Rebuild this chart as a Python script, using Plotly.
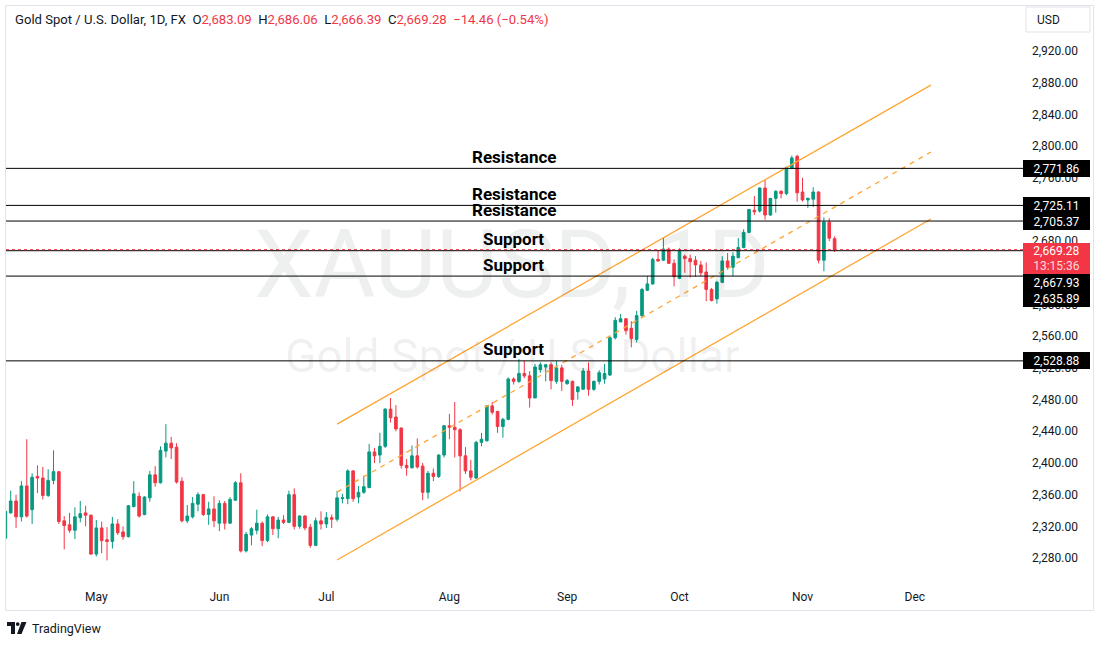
import plotly.graph_objects as go
import pandas as pd

# ---------------- data ----------------
dates = pd.bdate_range("2024-04-08", "2024-11-11")

open_ = [
    # Apr
    2305, 2337, 2352, 2332, 2371, 2341, 2383, 2381, 2359, 2378, 2389, 2327, 2322, 2315, 2331, 2337, 2334,
    # May
    2285, 2318, 2303, 2301, 2323, 2313, 2307, 2345, 2358, 2335, 2356, 2385, 2375, 2415, 2425, 2420, 2377,
    2327, 2332, 2348, 2360, 2335, 2342,
    # Jun
    2324, 2349, 2324, 2353, 2375, 2289, 2309, 2315, 2324, 2302, 2332, 2317, 2328, 2325, 2360, 2320, 2333,
    2319, 2296, 2327,
    # Jul
    2323, 2331, 2329, 2355, 2355, 2390, 2357, 2363, 2369, 2414, 2410, 2421, 2468, 2458, 2444, 2397, 2394,
    2409, 2396, 2363, 2387, 2383, 2410,
    # Aug
    2447, 2445, 2442, 2409, 2390, 2381, 2426, 2428, 2472, 2465, 2446, 2455, 2506, 2503, 2513, 2510, 2482,
    2518, 2521, 2524, 2503, 2520,
    # Sep
    2500, 2503, 2490, 2493, 2516, 2493, 2503, 2506, 2511, 2558, 2578, 2582, 2570, 2556, 2586, 2618, 2626,
    2657, 2656, 2670, 2652,
    # Oct
    2633, 2661, 2658, 2656, 2650, 2641, 2619, 2607, 2628, 2655, 2647, 2659, 2672, 2691, 2719, 2718, 2747,
    2713, 2734, 2743, 2740, 2772, 2787,
    # Nov
    2742, 2732, 2733, 2742, 2656, 2704, 2683.09,
]
high = [
    2353, 2365, 2360, 2377, 2430, 2387, 2397, 2395, 2392, 2416, 2390, 2333, 2337, 2344, 2352, 2346, 2335,
    2328, 2326, 2319, 2332, 2329, 2320, 2347, 2377, 2363, 2358, 2390, 2396, 2421, 2449, 2433, 2425, 2382,
    2347, 2357, 2363, 2361, 2351, 2358,
    2353, 2352, 2357, 2377, 2387, 2313, 2319, 2341, 2326, 2335, 2333, 2332, 2334, 2365, 2368, 2334, 2334,
    2323, 2331, 2339,
    2338, 2335, 2365, 2361, 2392, 2391, 2371, 2384, 2424, 2419, 2438, 2469, 2482, 2473, 2445, 2405, 2422,
    2431, 2400, 2390, 2393, 2411, 2448,
    2462, 2477, 2444, 2420, 2404, 2428, 2438, 2473, 2477, 2466, 2457, 2508, 2508, 2531, 2529, 2516, 2525,
    2527, 2525, 2527, 2529, 2524,
    2506, 2504, 2497, 2520, 2527, 2504, 2517, 2525, 2560, 2584, 2588, 2583, 2579, 2592, 2621, 2636, 2659,
    2668, 2684, 2672, 2657,
    2671, 2663, 2663, 2661, 2655, 2653, 2621, 2630, 2661, 2665, 2666, 2684, 2695, 2720, 2737, 2748, 2757,
    2734, 2744, 2744, 2774, 2788, 2789,
    2760, 2735, 2748, 2743, 2710, 2709, 2686.06,
]
low = [
    2301, 2336, 2318, 2326, 2331, 2323, 2362, 2354, 2357, 2373, 2323, 2291, 2312, 2304, 2325, 2320, 2284,
    2282, 2286, 2277, 2292, 2309, 2303, 2306, 2344, 2331, 2334, 2351, 2370, 2374, 2407, 2405, 2374, 2325,
    2324, 2330, 2339, 2333, 2322, 2319,
    2314, 2316, 2323, 2352, 2287, 2287, 2296, 2310, 2295, 2300, 2309, 2305, 2323, 2324, 2316, 2317, 2315,
    2293, 2295, 2316,
    2318, 2318, 2326, 2349, 2348, 2351, 2349, 2361, 2368, 2400, 2400, 2419, 2451, 2440, 2393, 2384, 2393,
    2393, 2353, 2355, 2377, 2381, 2407,
    2430, 2407, 2364, 2386, 2378, 2380, 2421, 2427, 2461, 2438, 2432, 2454, 2499, 2501, 2507, 2470, 2482,
    2514, 2503, 2493, 2500, 2491,
    2499, 2472, 2480, 2493, 2485, 2491, 2499, 2500, 2510, 2556, 2578, 2562, 2546, 2552, 2584, 2617, 2625,
    2654, 2655, 2651, 2623,
    2632, 2640, 2634, 2635, 2636, 2604, 2604, 2601, 2627, 2644, 2636, 2659, 2671, 2690, 2713, 2716, 2707,
    2712, 2716, 2734, 2738, 2771, 2730,
    2730, 2722, 2723, 2652, 2642, 2680, 2666.39,
]
close = [
    2339, 2352, 2332, 2371, 2333, 2382, 2381, 2359, 2378, 2389, 2326, 2321, 2315, 2332, 2336, 2334, 2285,
    2318, 2302, 2301, 2323, 2312, 2307, 2346, 2361, 2333, 2357, 2385, 2375, 2416, 2425, 2419, 2376, 2327,
    2333, 2349, 2360, 2335, 2342, 2327,
    2349, 2324, 2354, 2375, 2289, 2310, 2317, 2324, 2302, 2332, 2317, 2328, 2325, 2360, 2320, 2333, 2318,
    2296, 2327, 2323,
    2331, 2329, 2356, 2356, 2390, 2355, 2363, 2370, 2414, 2409, 2421, 2468, 2457, 2443, 2397, 2394, 2409,
    2395, 2363, 2387, 2383, 2410, 2447,
    2445, 2442, 2409, 2390, 2382, 2426, 2430, 2472, 2464, 2446, 2455, 2506, 2503, 2513, 2510, 2482, 2521,
    2524, 2524, 2504, 2520, 2503,
    2504, 2480, 2496, 2516, 2493, 2503, 2514, 2513, 2558, 2580, 2582, 2567, 2557, 2586, 2619, 2626, 2657,
    2655, 2670, 2652, 2635,
    2667, 2658, 2654, 2650, 2640, 2619, 2605, 2628, 2655, 2647, 2661, 2672, 2691, 2720, 2717, 2747, 2713,
    2734, 2743, 2740, 2773, 2785, 2741,
    2732, 2734, 2742, 2656, 2704, 2683.74, 2669.28,
]
assert len(dates) == len(open_) == len(high) == len(low) == len(close)

# horizontal levels
level_values = [2771.86, 2725.11, 2705.37, 2667.93, 2635.89, 2528.88]
level_names = ["Resistance", "Resistance", "Resistance", "Support", "Support", "Support"]
label_shift = [0, 0, 0, -31.4, -22, 0]   # price-scale tag displacement (px)

# parallel channel (anchor dates and prices)
chan_x = ["2024-07-03", "2024-12-05"]
chan_upper = [2449.0, 2877.0]
chan_lower = [2277.5, 2708.0]
chan_mid = [(a + b) / 2 for a, b in zip(chan_upper, chan_lower)]

month_ticks = ["2024-05-01", "2024-06-03", "2024-07-01", "2024-08-01",
               "2024-09-02", "2024-10-01", "2024-11-01", "2024-12-02"]
month_labels = ["May", "Jun", "Jul", "Aug", "Sep", "Oct", "Nov", "Dec"]
price_ticks = [2280, 2320, 2360, 2400, 2440, 2480, 2520, 2560, 2600, 2640,
               2680, 2720, 2760, 2800, 2840, 2880, 2920]

countdown = "13:15:36"

# ---------------- styling ----------------
UP = "#089981"
DOWN = "#F23645"
TXT = "#131722"
ORANGE = "#FFA532"
FONT = "Roboto"

W, H = 1104, 645
ML, MR, MT, MB = 6, 83, 6, 62
PW = W - ML - MR
PH = H - MT - MB


def px(x):
    return (x - ML) / PW


def py(y):
    return (H - MB - y) / PH


fig = go.Figure()

fig.add_trace(go.Candlestick(
    x=dates, open=open_, high=high, low=low, close=close,
    increasing=dict(line=dict(color=UP, width=1), fillcolor=UP),
    decreasing=dict(line=dict(color=DOWN, width=1), fillcolor=DOWN),
    whiskerwidth=0, showlegend=False, hoverinfo="skip",
))

for ys, dash in [(chan_upper, "solid"), (chan_lower, "solid"), (chan_mid, "5px,5px")]:
    fig.add_trace(go.Scatter(
        x=chan_x, y=ys, mode="lines",
        line=dict(color=ORANGE, width=1.3, dash=dash),
        showlegend=False, hoverinfo="skip",
    ))

shapes = []
annotations = []

# watermark
annotations.append(dict(text="XAUUSD, 1D", xref="paper", yref="paper", x=0.499, y=py(264),
                        showarrow=False, font=dict(family=FONT, size=95, color="rgba(19,23,34,0.07)"),
                        xanchor="center", yanchor="middle"))
annotations.append(dict(text="Gold Spot / U.S. Dollar", xref="paper", yref="paper", x=0.499, y=py(356),
                        showarrow=False, font=dict(family=FONT, size=46, color="rgba(19,23,34,0.07)"),
                        xanchor="center", yanchor="middle"))

# level lines + labels + price tags
for v, name, sh in zip(level_values, level_names, label_shift):
    shapes.append(dict(type="line", xref="paper", yref="y", x0=0, x1=1.002, y0=v, y1=v,
                       line=dict(color="#000000", width=1), layer="above"))
    annotations.append(dict(text=f"<b>{name}</b>", xref="paper", yref="y", x=0.5, y=v,
                            yshift=11.5, showarrow=False, xanchor="center", yanchor="middle",
                            font=dict(family=FONT, size=17, color="#000000")))

last_close = close[-1]
shapes.append(dict(type="line", xref="paper", yref="y", x0=0, x1=1.002, y0=last_close, y1=last_close,
                   line=dict(color=DOWN, width=1, dash="dot"), layer="above"))

for v, name, sh in zip(level_values, level_names, label_shift):
    annotations.append(dict(text=f"{v:,.2f}", xref="paper", yref="y", x=1, xshift=2, y=v, yshift=sh,
                            showarrow=False, xanchor="left", yanchor="middle", align="center",
                            bgcolor="#000000", width=63, height=13, borderpad=2, borderwidth=0,
                            font=dict(family=FONT, size=12, color="#FFFFFF")))

annotations.append(dict(text=f"{last_close:,.2f}<br><span style='color:#FFD9DD'>{countdown}</span>",
                        xref="paper", yref="y", x=1, xshift=2, y=last_close, yshift=7,
                        showarrow=False, xanchor="left", yanchor="top", align="center",
                        bgcolor=DOWN, width=63, height=27, borderpad=2, borderwidth=0,
                        font=dict(family=FONT, size=12, color="#FFFFFF")))

# header
o, hh, ll, c = open_[-1], high[-1], low[-1], close[-1]
prev = close[-2]
chg = c - prev
pct = chg / prev * 100
NB = "\u00a0"
red = lambda s: f"<span style='color:{DOWN}'>{s}</span>"
header = (f"Gold Spot / U.S. Dollar, 1D, FX{NB}{NB}O{red(f'{o:,.2f}')}{NB}{NB}H{red(f'{hh:,.2f}')}"
          f"{NB}{NB}L{red(f'{ll:,.2f}')}{NB}{NB}C{red(f'{c:,.2f}')}{NB}{NB}"
          + red(f"{chg:+.2f} ({pct:+.2f}%)".replace("-", "\u2212")))
annotations.append(dict(text=header, xref="paper", yref="paper", x=px(13), y=py(19),
                        showarrow=False, xanchor="left", yanchor="middle",
                        font=dict(family=FONT, size=13.1, color=TXT)))

# frame
shapes.append(dict(type="rect", xref="paper", yref="paper", x0=px(5.5), x1=px(1093.5),
                   y0=py(610.5), y1=py(5.5), line=dict(color="#E0E3EB", width=1), layer="above"))
# USD box
shapes.append(dict(type="rect", xref="paper", yref="paper", x0=px(1026), x1=px(1090),
                   y0=py(32), y1=py(7), line=dict(color="#E0E3EB", width=1), fillcolor="#FFFFFF",
                   layer="above"))
annotations.append(dict(text="USD", xref="paper", yref="paper", x=px(1048), y=py(19.5),
                        showarrow=False, xanchor="center", yanchor="middle",
                        font=dict(family=FONT, size=12, color=TXT)))

# TradingView logo + text
def path(points):
    return "M " + " L ".join(f"{px(x)},{py(y)}" for x, y in points) + " Z"

shapes.append(dict(type="path", xref="paper", yref="paper",
                   path=path([(7, 622), (15, 622), (15, 634), (11, 634), (11, 626), (7, 626)]),
                   fillcolor=TXT, line=dict(width=0)))
shapes.append(dict(type="circle", xref="paper", yref="paper", x0=px(15.8), x1=px(19.6),
                   y0=py(626), y1=py(622.2), fillcolor=TXT, line=dict(width=0)))
shapes.append(dict(type="path", xref="paper", yref="paper",
                   path=path([(21.5, 622), (26.5, 622), (21.5, 634), (17, 634)]),
                   fillcolor=TXT, line=dict(width=0)))
annotations.append(dict(text="TradingView", xref="paper", yref="paper", x=px(30), y=py(628),
                        showarrow=False, xanchor="left", yanchor="middle",
                        font=dict(family=FONT, size=12.5, color=TXT)))

fig.update_layout(
    width=W, height=H,
    margin=dict(l=ML, r=MR, t=MT, b=MB),
    paper_bgcolor="#FFFFFF", plot_bgcolor="#FFFFFF",
    showlegend=False, hovermode=False,
    shapes=shapes, annotations=annotations,
    font=dict(family=FONT, color=TXT, size=12),
    xaxis=dict(
        type="date",
        range=["2024-04-08 02:53", "2024-12-27 20:10"],
        rangebreaks=[dict(bounds=["sat", "mon"])],
        rangeslider=dict(visible=False),
        tickvals=month_ticks, ticktext=month_labels,
        showgrid=False, zeroline=False, showline=False, ticks="",
        ticklabelstandoff=5,
        tickfont=dict(family=FONT, size=12, color=TXT),
        fixedrange=True,
    ),
    yaxis=dict(
        side="right",
        range=[2248.5, 2976.8],
        tickvals=price_ticks, tickformat=",.2f",
        showgrid=False, zeroline=False, showline=False, ticks="",
        ticklabelstandoff=10,
        tickfont=dict(family=FONT, size=12, color=TXT),
        fixedrange=True,
    ),
)

fig.write_html("out.html")
